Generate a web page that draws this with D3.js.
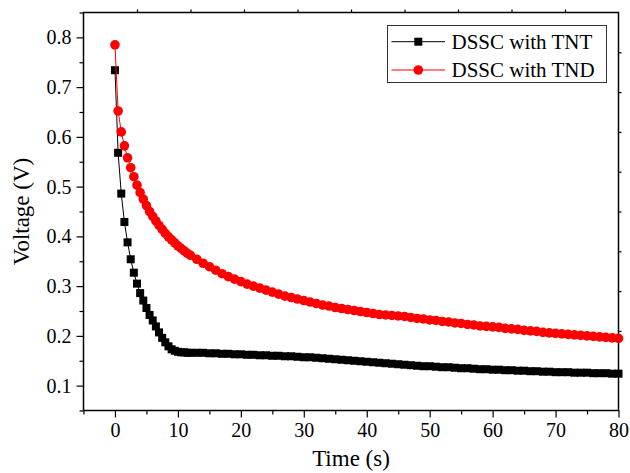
<!DOCTYPE html>
<html>
<head>
<meta charset="utf-8">
<script src="https://cdn.jsdelivr.net/npm/d3@7"></script>
<style>
  body { margin: 0; background: #fff; }
  svg { display: block; }
  text { font-family: "Liberation Serif", "Times New Roman", serif; fill: #000; }
</style>
</head>
<body>
<svg id="chart" width="630" height="473"></svg>
<script>
// ---- data ----
const times = [0,0.5,1,1.5,2,2.5,3,3.5,4,4.5,5,5.5,6,6.5,7,7.5,8,8.5,9,9.5,10,10.5,11,11.5,12,
  13,14,15,16,17,18,19,20,21,22,23,24,25,26,27,28,29,30,31,32,33,34,35,36,37,38,39,40,
  41,42,43,44,45,46,47,48,49,50,51,52,53,54,55,56,57,58,59,60,61,62,63,64,65,66,67,68,69,70,
  71,72,73,74,75,76,77,78,79,80];

const tntVoltage = [0.734,0.568,0.486,0.429,0.388,0.354,0.327,0.305,0.286,0.271,0.256,0.242,0.231,0.219,0.207,0.196,0.187,0.179,0.173,0.170,0.168,0.167,0.167,0.166,0.166,
  0.166,0.166,0.165,0.165,0.164,0.164,0.163,0.163,0.162,0.162,0.161,0.161,0.160,0.160,0.159,0.159,0.158,0.157,0.157,0.156,0.155,0.154,0.153,0.152,0.151,0.150,0.149,0.148,
  0.147,0.146,0.145,0.144,0.143,0.142,0.141,0.140,0.139,0.139,0.138,0.137,0.137,0.136,0.135,0.135,0.134,0.133,0.133,0.132,0.132,0.131,0.131,0.130,0.130,0.129,0.129,0.128,0.128,0.127,
  0.127,0.127,0.126,0.126,0.126,0.125,0.125,0.125,0.124,0.124];

const tndVoltage = [0.785,0.652,0.610,0.582,0.558,0.538,0.520,0.503,0.488,0.475,0.462,0.450,0.440,0.431,0.422,0.414,0.406,0.399,0.393,0.387,0.381,0.376,0.371,0.366,0.362,
  0.354,0.346,0.339,0.332,0.325,0.319,0.314,0.309,0.304,0.300,0.296,0.292,0.288,0.284,0.280,0.277,0.274,0.271,0.268,0.265,0.262,0.260,0.257,0.255,0.253,0.251,0.249,0.247,
  0.245,0.243,0.242,0.241,0.240,0.239,0.237,0.235,0.234,0.232,0.231,0.229,0.228,0.226,0.225,0.223,0.222,0.220,0.219,0.218,0.217,0.215,0.214,0.213,0.211,0.210,0.209,0.207,0.206,0.205,
  0.204,0.203,0.202,0.201,0.200,0.199,0.198,0.197,0.196,0.195];

const xTicks = [0,10,20,30,40,50,60,70,80];
const xMinorTicks = [-5,5,15,25,35,45,55,65,75];
const yTicks = [0.1,0.2,0.3,0.4,0.5,0.6,0.7,0.8];
const yMinorTicks = [0.05,0.15,0.25,0.35,0.45,0.55,0.65,0.75,0.85];
const seriesNames = ["DSSC with TNT","DSSC with TND"];

// ---- layout ----
const svg = d3.select("#chart");
const L = 83.5, R = 618.5, T = 12.5, B = 410.5;
const x = d3.scaleLinear().domain([-5, 80]).range([L, R]);
const y = d3.scaleLinear().domain([0.05, 0.85]).range([B, T]);
const fx = d3.scaleLinear().domain([0, 1]).range([L, R]);
const fy = d3.scaleLinear().domain([0, 1]).range([B, T]);

function styleAxis(g) {
  g.select(".domain").remove();
  g.selectAll(".tick line").attr("stroke", "#000").attr("stroke-width", 1.2);
  g.selectAll(".tick text").style("font-family", '"Liberation Serif", "Times New Roman", serif')
    .style("font-size", "20px").attr("fill", "#000");
}

// minor ticks
svg.append("g").attr("transform", `translate(0,${B})`)
  .call(d3.axisBottom(x).tickValues(xMinorTicks).tickSize(4).tickFormat(""))
  .call(styleAxis);
svg.append("g").attr("transform", `translate(${L},0)`)
  .call(d3.axisLeft(y).tickValues(yMinorTicks).tickSize(4).tickFormat(""))
  .call(styleAxis);
// major ticks
svg.append("g").attr("transform", `translate(0,${B})`)
  .call(d3.axisBottom(x).tickValues(xTicks).tickSize(7).tickPadding(5).tickFormat(d3.format("d")))
  .call(styleAxis);
svg.append("g").attr("transform", `translate(${L},0)`)
  .call(d3.axisLeft(y).tickValues(yTicks).tickSize(7).tickPadding(5).tickFormat(d3.format(".1f")))
  .call(styleAxis);
// top & right frame ticks
svg.append("g").attr("transform", `translate(0,${T})`)
  .call(d3.axisTop(fx).tickValues(d3.range(1, 10).map(d => d / 10)).tickSize(3).tickFormat(""))
  .call(styleAxis);
svg.append("g").attr("transform", `translate(${R},0)`)
  .call(d3.axisRight(fy).tickValues(d3.range(1, 10).map(d => d / 10)).tickSize(3).tickFormat(""))
  .call(styleAxis);

// frame
svg.append("rect").attr("x", L).attr("y", T).attr("width", R - L).attr("height", B - T)
  .attr("fill", "none").attr("stroke", "#000").attr("stroke-width", 1.5);

// axis titles
svg.append("text").attr("x", (L + R) / 2).attr("y", 466).attr("text-anchor", "middle")
  .style("font-size", "23px").text("Time (s)");
svg.append("text").attr("transform", `translate(29,${(T + B) / 2}) rotate(-90)`)
  .attr("text-anchor", "middle").style("font-size", "23px").text("Voltage (V)");

// data
const tnt = times.map((t, i) => [t, tntVoltage[i]]);
const tnd = times.map((t, i) => [t, tndVoltage[i]]);
const line = d3.line().x(d => x(d[0])).y(d => y(d[1]));

const plot = svg.append("g");
plot.append("path").datum(tnt).attr("d", line).attr("fill", "none").attr("stroke", "#000").attr("stroke-width", 1);
plot.selectAll("rect.tnt").data(tnt).enter().append("rect").attr("class", "tnt")
  .attr("x", d => x(d[0]) - 4).attr("y", d => y(d[1]) - 4).attr("width", 8).attr("height", 8)
  .attr("fill", "#000");
plot.append("path").datum(tnd).attr("d", line).attr("fill", "none").attr("stroke", "#ff0000").attr("stroke-width", 1);
plot.selectAll("circle.tnd").data(tnd).enter().append("circle").attr("class", "tnd")
  .attr("cx", d => x(d[0])).attr("cy", d => y(d[1])).attr("r", 4.8)
  .attr("fill", "#ff0000");

// legend
const lg = svg.append("g");
lg.append("rect").attr("x", 387.5).attr("y", 25.5).attr("width", 219).attr("height", 57)
  .attr("fill", "#fff").attr("stroke", "#333").attr("stroke-width", 1);
const rows = [{ name: seriesNames[0], color: "#000", shape: "square", y: 41.7 },
              { name: seriesNames[1], color: "#ff0000", shape: "circle", y: 70 }];
rows.forEach(r => {
  lg.append("line").attr("x1", 391.5).attr("x2", 445).attr("y1", r.y).attr("y2", r.y)
    .attr("stroke", r.color).attr("stroke-width", 1);
  if (r.shape === "square") {
    lg.append("rect").attr("x", 418.3 - 4).attr("y", r.y - 4).attr("width", 8).attr("height", 8).attr("fill", r.color);
  } else {
    lg.append("circle").attr("cx", 418.3).attr("cy", r.y).attr("r", 4.8).attr("fill", r.color);
  }
  lg.append("text").attr("x", 451.5).attr("y", r.y + 7).style("font-size", "21px").text(r.name);
});
</script>
</body>
</html>
